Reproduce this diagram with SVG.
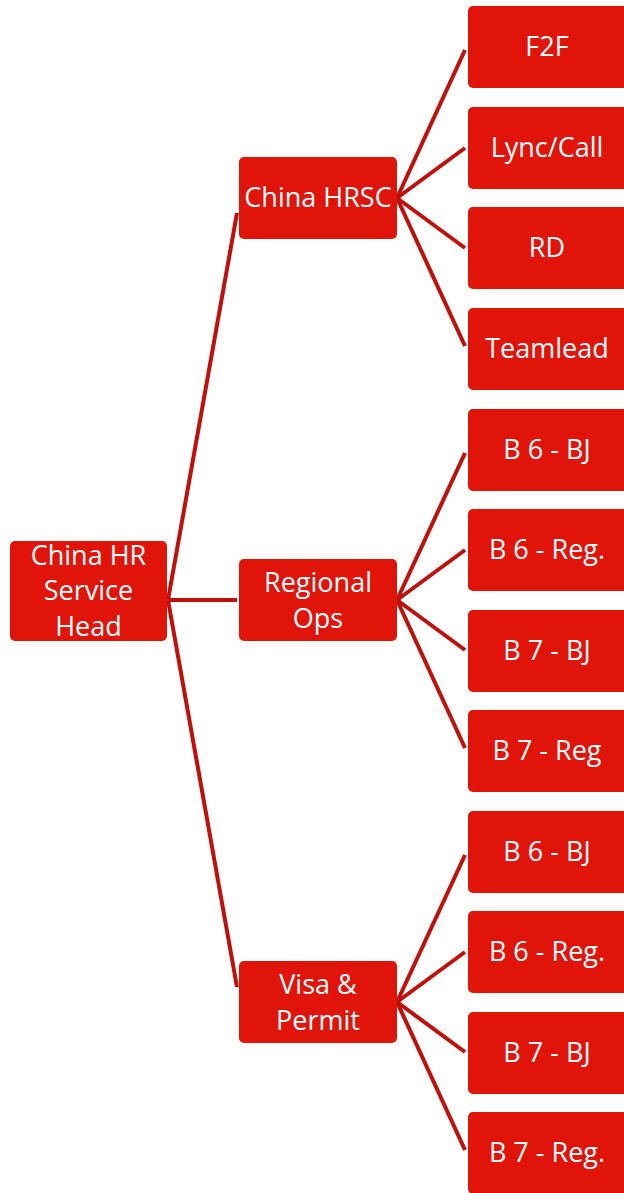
<svg xmlns="http://www.w3.org/2000/svg" width="624" height="1193" viewBox="0 0 624 1193">
<style>
.n{fill:#E1140A;}
.t{fill:#fff;font-family:"Open Sans","Noto Sans",sans-serif;font-size:27px;text-anchor:middle;dominant-baseline:central;}
.c line{stroke:#C0100C;stroke-width:4;stroke-linecap:butt;}
</style>
<rect width="624" height="1193" fill="#fff"/>
<g id="connectors" class="c">
<line x1="168" y1="600" x2="237" y2="213"/>
<line x1="168" y1="600" x2="237" y2="600"/>
<line x1="168" y1="600" x2="237" y2="987"/>
<line x1="397" y1="198" x2="465" y2="50"/>
<line x1="397" y1="198" x2="465" y2="148"/>
<line x1="397" y1="198" x2="465" y2="248"/>
<line x1="397" y1="198" x2="465" y2="346"/>
<line x1="397" y1="600" x2="465" y2="453"/>
<line x1="397" y1="600" x2="465" y2="550"/>
<line x1="397" y1="600" x2="465" y2="650"/>
<line x1="397" y1="600" x2="465" y2="748"/>
<line x1="397" y1="1002" x2="465" y2="855"/>
<line x1="397" y1="1002" x2="465" y2="952"/>
<line x1="397" y1="1002" x2="465" y2="1052"/>
<line x1="397" y1="1002" x2="465" y2="1150"/>
</g>
<g id="root"><rect class="n" x="10" y="541" width="157" height="100" rx="5"/><text class="t" x="88.5" y="554">China HR</text><text class="t" x="88.5" y="589">Service</text><text class="t" x="88.5" y="625">Head</text></g>
<g id="hrsc"><rect class="n" x="239" y="157" width="158" height="82" rx="5"/><text class="t" x="318" y="196">China HRSC</text></g>
<g id="regops"><rect class="n" x="239" y="559" width="158" height="82" rx="5"/><text class="t" x="318" y="581">Regional</text><text class="t" x="318" y="617">Ops</text></g>
<g id="visa"><rect class="n" x="239" y="961" width="158" height="82" rx="5"/><text class="t" x="318" y="983">Visa &amp;</text><text class="t" x="318" y="1019">Permit</text></g>
<g id="l1"><rect class="n" x="468" y="6" width="160" height="82" rx="5"/><text class="t" x="547" y="45">F2F</text></g>
<g id="l2"><rect class="n" x="468" y="107" width="160" height="82" rx="5"/><text class="t" x="547" y="146">Lync/Call</text></g>
<g id="l3"><rect class="n" x="468" y="207" width="160" height="82" rx="5"/><text class="t" x="547" y="246">RD</text></g>
<g id="l4"><rect class="n" x="468" y="308" width="160" height="82" rx="5"/><text class="t" x="547" y="347">Teamlead</text></g>
<g id="l5"><rect class="n" x="468" y="409" width="160" height="82" rx="5"/><text class="t" x="547" y="448">B 6 - BJ</text></g>
<g id="l6"><rect class="n" x="468" y="509" width="160" height="82" rx="5"/><text class="t" x="547" y="548">B 6 - Reg.</text></g>
<g id="l7"><rect class="n" x="468" y="610" width="160" height="82" rx="5"/><text class="t" x="547" y="649">B 7 - BJ</text></g>
<g id="l8"><rect class="n" x="468" y="710" width="160" height="82" rx="5"/><text class="t" x="547" y="749">B 7 - Reg</text></g>
<g id="l9"><rect class="n" x="468" y="811" width="160" height="82" rx="5"/><text class="t" x="547" y="850">B 6 - BJ</text></g>
<g id="l10"><rect class="n" x="468" y="911" width="160" height="82" rx="5"/><text class="t" x="547" y="950">B 6 - Reg.</text></g>
<g id="l11"><rect class="n" x="468" y="1012" width="160" height="82" rx="5"/><text class="t" x="547" y="1051">B 7 - BJ</text></g>
<g id="l12"><rect class="n" x="468" y="1112" width="160" height="82" rx="5"/><text class="t" x="547" y="1151">B 7 - Reg.</text></g>
</svg>
